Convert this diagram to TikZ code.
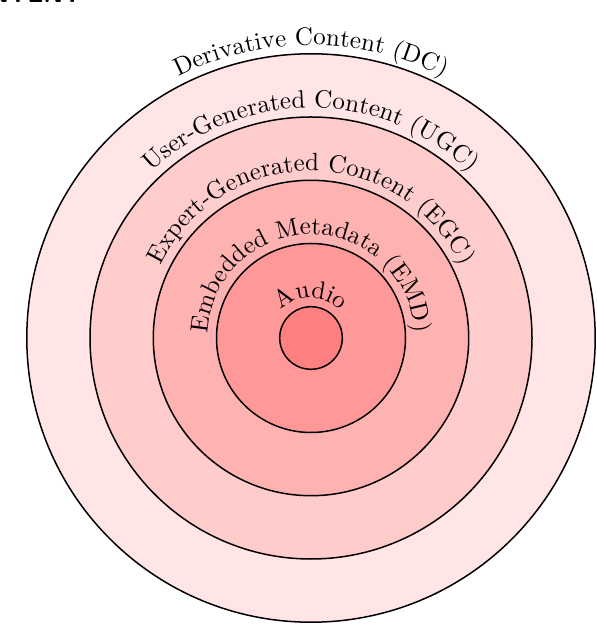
\documentclass[tikz,border=0pt]{standalone}
\usetikzlibrary{decorations.text,calc}
\begin{document}
\begin{tikzpicture}[x=0.4pt,y=0.4pt]
                    \useasboundingbox (-311,-286) rectangle (285,338);
                    \coordinate (centre) at (0,0);

                    \node [anchor=base east,inner sep=0pt,font=\sffamily\bfseries] (title) at (-229,335) {CONTENT};

                    \foreach \r/\tint in {284.2/10,221/20,157.7/30,94.5/40,31.3/50} {
                        \draw [fill=red!\tint,line width=0.6pt] (centre) circle [radius=\r];
                    }

                    \foreach \r/\layer in {293/Derivative Content (DC),230/User-Generated Content (UGC),167/Expert-Generated Content (EGC),103.5/Embedded Metadata (EMD),40/Audio} {
                        \path [decorate,decoration={text along path,text/.expanded={\layer},text align=center}] ($(centre)+(180:\r)$) arc [start angle=180,end angle=0,radius=\r];
                    }
                \end{tikzpicture}
\end{document}
